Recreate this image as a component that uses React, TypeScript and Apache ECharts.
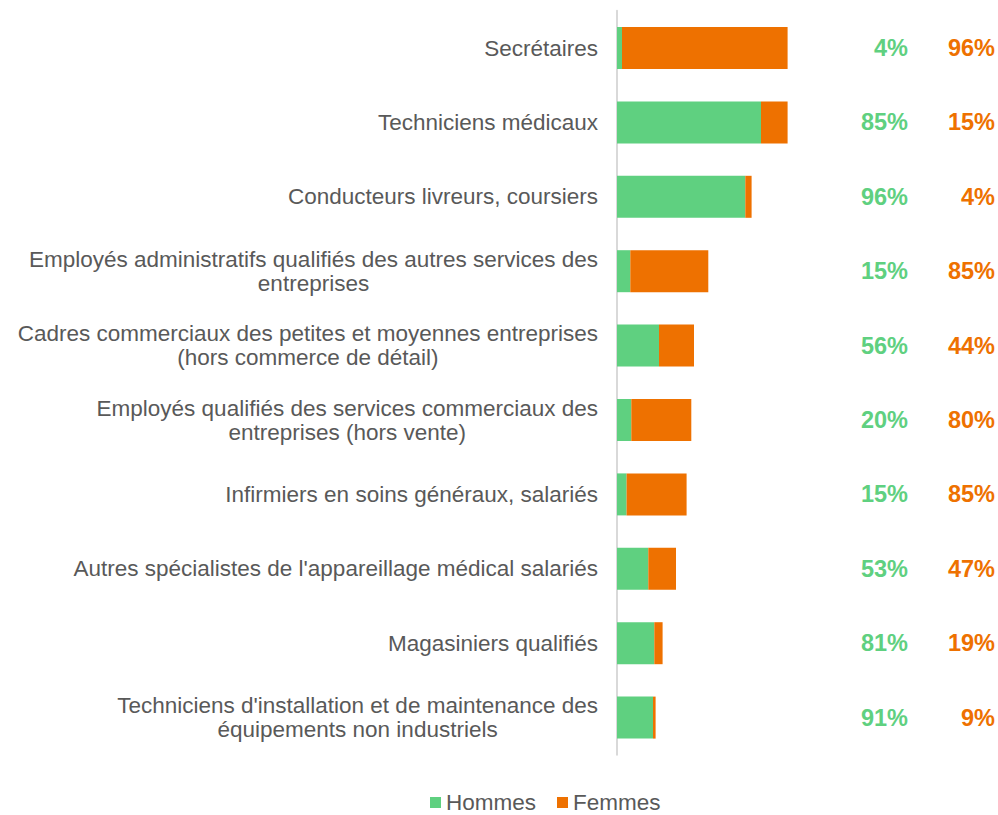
import React, { useEffect, useRef } from "react";
import * as echarts from "echarts";

const categories = [
  "Secrétaires",
  "Techniciens médicaux",
  "Conducteurs livreurs, coursiers",
  "Employés administratifs qualifiés des autres services des\nentreprises",
  "Cadres commerciaux des petites et moyennes entreprises\n(hors commerce de détail)",
  "Employés qualifiés des services commerciaux des\nentreprises (hors vente)",
  "Infirmiers en soins généraux, salariés",
  "Autres spécialistes de l'appareillage médical salariés",
  "Magasiniers qualifiés",
  "Techniciens d'installation et de maintenance des\néquipements non industriels",
];

const hommes = [5, 144, 128.3, 13.3, 42, 14.3, 9.6, 31.3, 37.3, 36];
const femmes = [165.6, 26.6, 6.3, 78, 35, 60, 60, 27.7, 8.3, 2.6];

const hommesPct = [4, 85, 96, 15, 56, 20, 15, 53, 81, 91];
const femmesPct = [96, 15, 4, 85, 44, 80, 85, 47, 19, 9];

const GREEN = "#5fd080";
const ORANGE = "#ee7100";
const GRAY = "#595959";
const FONT = "Liberation Sans, Arial, sans-serif";
const LABEL_SIZE = 22.5;
const PCT_SIZE = 23.5;

export default function App() {
  const ref = useRef<HTMLDivElement>(null);

  useEffect(() => {
    if (!ref.current) return;
    const chart = echarts.init(ref.current, undefined, { renderer: "svg" });
    const pctAxis = (pcts: number[], color: string, margin: number) => ({
      type: "category",
      data: categories,
      inverse: true,
      position: "right",
      gridIndex: 0,
      axisLine: { show: false },
      axisTick: { show: false },
      splitLine: { show: false },
      axisLabel: {
        align: "right",
        margin,
        color,
        fontFamily: FONT,
        fontSize: PCT_SIZE,
        fontWeight: "bold",
        formatter: (_v: string, i: number) => `${pcts[i]}%`,
      },
    });
    chart.setOption({
      animation: false,
      textStyle: { fontFamily: FONT },
      grid: { left: 617, width: 200, top: 10.8, height: 744, containLabel: false },
      legend: {
        data: ["Hommes", "Femmes"],
        left: 430,
        top: 791,
        padding: 0,
        icon: "rect",
        itemWidth: 11,
        itemHeight: 11,
        itemGap: 21,
        textStyle: { color: GRAY, fontSize: LABEL_SIZE, fontFamily: FONT },
      },
      xAxis: {
        type: "value",
        min: 0,
        max: 200,
        show: false,
        splitLine: { show: false },
      },
      yAxis: [
        {
          type: "category",
          data: categories,
          inverse: true,
          axisLine: { show: true, lineStyle: { color: "#d9d9d9", width: 2 } },
          axisTick: { show: false },
          axisLabel: {
            margin: 19,
            align: "right",
            color: GRAY,
            fontSize: LABEL_SIZE,
            fontFamily: FONT,
            formatter: (v: string) =>
              v
                .split("\n")
                .map((l) => `{c|${l}}`)
                .join("\n"),
            rich: {
              c: {
                align: "center",
                color: GRAY,
                fontSize: LABEL_SIZE,
                fontFamily: FONT,
                lineHeight: 24,
              },
            },
          },
        },
        pctAxis(hommesPct, GREEN, 91),
        pctAxis(femmesPct, ORANGE, 178),
      ],
      series: [
        {
          name: "Hommes",
          type: "bar",
          stack: "total",
          barWidth: 42,
          yAxisIndex: 0,
          itemStyle: { color: GREEN },
          data: hommes,
        },
        {
          name: "Femmes",
          type: "bar",
          stack: "total",
          barWidth: 42,
          yAxisIndex: 0,
          itemStyle: { color: ORANGE },
          data: femmes,
        },
      ],
    });
    return () => chart.dispose();
  }, []);

  return (
    <div
      ref={ref}
      style={{ position: "absolute", left: 0, top: 0, width: 998, height: 815 }}
    />
  );
}
